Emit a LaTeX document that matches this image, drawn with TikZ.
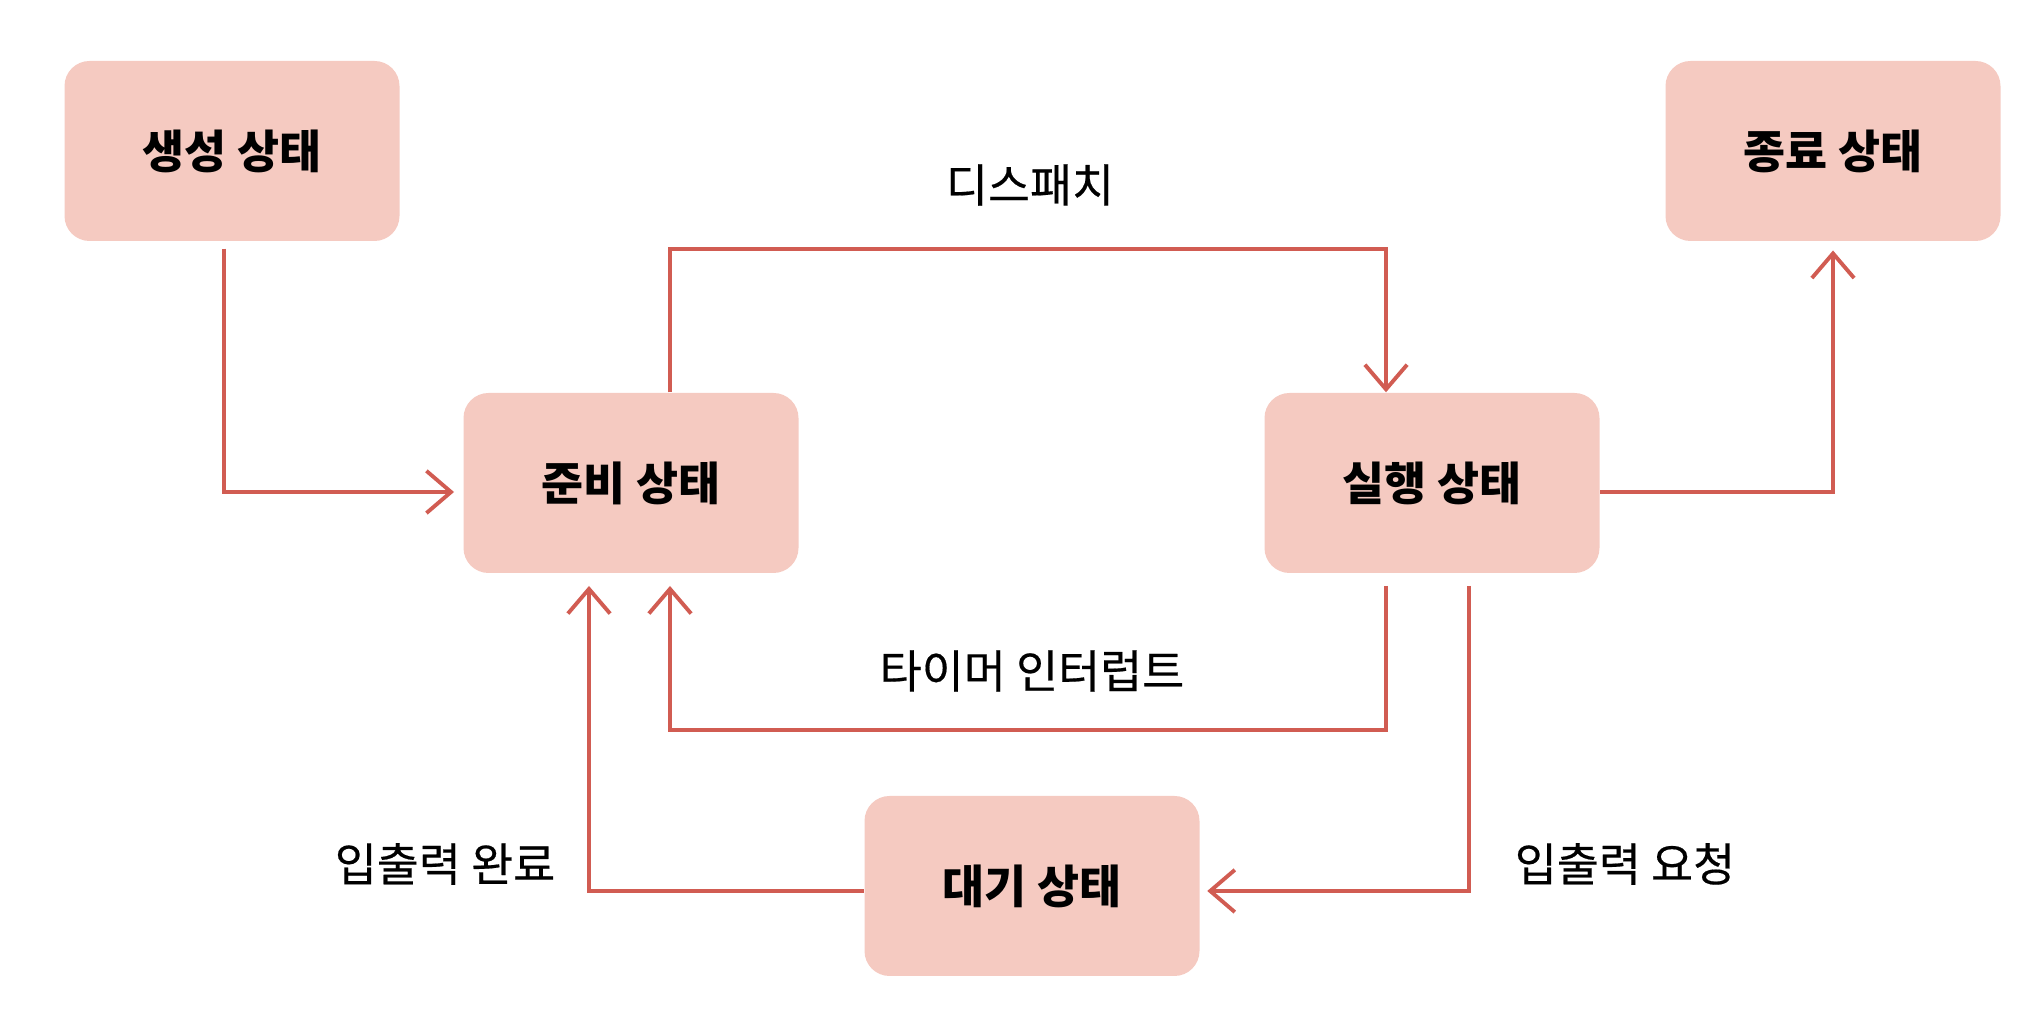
\documentclass[tikz,border=0pt]{standalone}
\usepackage{fontspec}
\setmainfont{Noto Sans CJK KR}
\newfontfamily\lblfont{Noto Sans CJK KR}[FakeBold=0.4]
\usepackage{xcolor}
\usetikzlibrary{arrows.meta}
\definecolor{boxpink}{RGB}{245,202,193}
\definecolor{linered}{RGB}{209,92,82}

\begin{document}
\begin{tikzpicture}[
   state/.style={fill=boxpink, rounded corners=0.25cm, minimum width=3.35cm, minimum height=1.8cm, font=\fontsize{13}{15}\selectfont\bfseries},
   conn/.style={draw=linered, line width=1.1pt, -{Straight Barb[length=7pt,width=12pt]}},
   lbl/.style={font=\lblfont\fontsize{13}{15}\selectfont}
]
   \useasboundingbox (0,0) rectangle (20.4,10.22);

   % states
   \node[state] (create) at (2.32,8.71) {생성 상태};
   \node[state] (term) at (18.33,8.71) {종료 상태};
   \node[state] (ready) at (6.31,5.39) {준비 상태};
   \node[state] (run) at (14.32,5.39) {실행 상태};
   \node[state] (wait) at (10.32,1.36) {대기 상태};

   % transitions
   \draw[conn, shorten <=2pt, shorten >=2.5pt] ([xshift=-0.08cm]create.south) |- ([yshift=-0.09cm]ready.west);
   \draw[conn] ([xshift=0.39cm]ready.north) -- ++(0,1.43) -| ([xshift=-0.46cm]run.north);
   \draw[conn, shorten >=2.5pt] ([yshift=-0.09cm]run.east) -| (term.south);
   \draw[conn, shorten <=3.5pt, shorten >=3.5pt] ([xshift=-0.46cm]run.south) -- ++(0,-1.56) -| ([xshift=0.39cm]ready.south);
   \draw[conn, shorten <=3.5pt, shorten >=2pt] ([xshift=0.37cm]run.south) |- ([yshift=-0.05cm]wait.east);
   \draw[conn, shorten >=3.5pt] ([yshift=-0.05cm]wait.west) -| ([xshift=-0.42cm]ready.south);

   % labels
   \node[lbl] (dispatch) at (10.30,8.37) {디스패치};
   \node[lbl] (timer) at (10.32,3.51) {타이머 인터럽트};
   \node[lbl] (iodone) at (4.45,1.58) {입출력 완료};
   \node[lbl] (ioreq) at (16.25,1.58) {입출력 요청};
\end{tikzpicture}
\end{document}
